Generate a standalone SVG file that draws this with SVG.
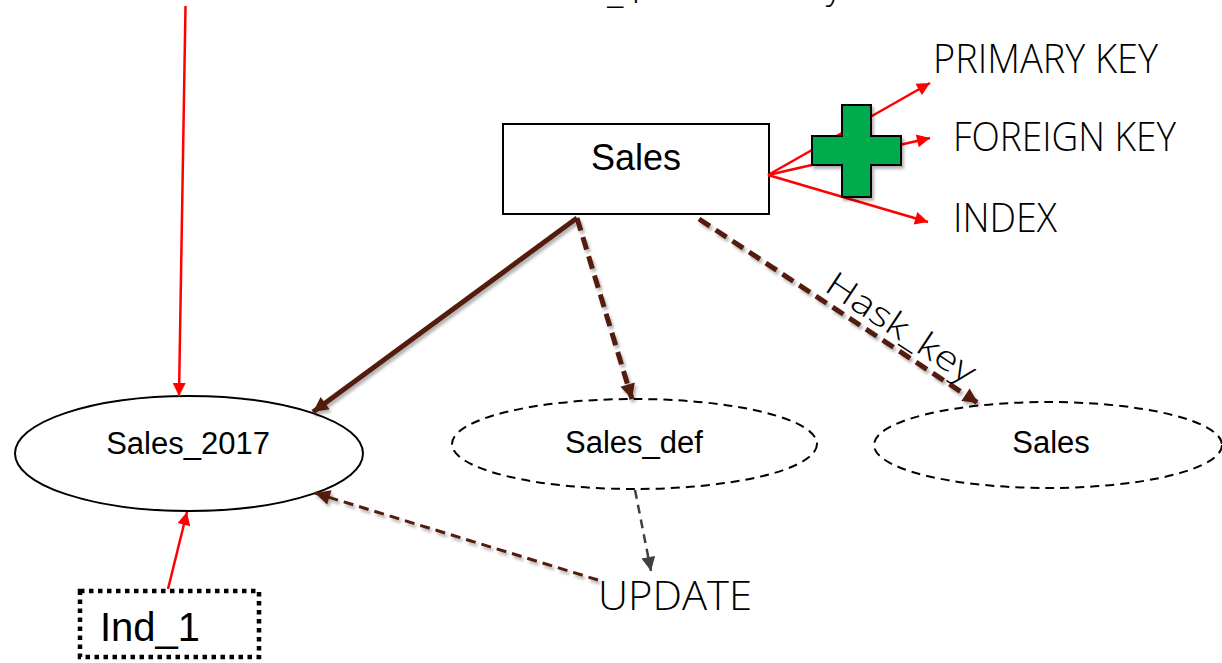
<svg xmlns="http://www.w3.org/2000/svg" width="1222" height="663" viewBox="0 0 1222 663">
<style>
.nl{font-family:"Liberation Sans",Arial,sans-serif;fill:#000;text-anchor:middle}
.hl{font-family:"Open Sans","Noto Sans",sans-serif;font-weight:300;fill:#000}
.red{stroke:#ff0000;stroke-width:2.5;fill:none}
.br{stroke:#521d0f;stroke-width:5;fill:none}
.brd{stroke:#521d0f;stroke-width:5;fill:none;stroke-dasharray:13 7}
.brt{stroke:#521d0f;stroke-width:3;fill:none;stroke-dasharray:10 6}
.gr{stroke:#404040;stroke-width:2.5;fill:none;stroke-dasharray:9 6}
.shape{fill:#fff;stroke:#000;stroke-width:2}
.dash{fill:#fff;stroke:#000;stroke-width:2;stroke-dasharray:9 6}
</style>
<defs>
<filter id="sh" x="-20%" y="-20%" width="140%" height="140%">
<feDropShadow dx="2" dy="3" stdDeviation="1.5" flood-color="#000" flood-opacity="0.3"/>
</filter>
<marker id="ar" viewBox="0 0 10 10" refX="10" refY="5" markerWidth="15" markerHeight="13" markerUnits="userSpaceOnUse" orient="auto"><path d="M0,0 L10,5 L0,10 z" fill="#ff0000"/></marker>
<marker id="ab" viewBox="0 0 10 10" refX="10" refY="5" markerWidth="18" markerHeight="15" markerUnits="userSpaceOnUse" orient="auto"><path d="M0,0 L10,5 L0,10 z" fill="#521d0f"/></marker>
<marker id="ag" viewBox="0 0 10 10" refX="10" refY="5" markerWidth="16" markerHeight="14" markerUnits="userSpaceOnUse" orient="auto"><path d="M0,0 L10,5 L0,10 z" fill="#404040"/></marker>
</defs>

<text class="hl" x="607" y="3" font-size="40">_1</text>
<text class="hl" x="826" y="-2" font-size="36">y</text>

<g id="node-sales">
<rect class="shape" x="503" y="124" width="266" height="90"/>
<text class="nl" x="636" y="170" font-size="36">Sales</text>
</g>
<g id="node-sales2017">
<ellipse class="shape" cx="189" cy="453.5" rx="174" ry="57.5"/>
<text class="nl" x="188" y="454" font-size="31">Sales_2017</text>
</g>
<g id="node-salesdef">
<ellipse class="dash" cx="634.5" cy="444" rx="182.5" ry="45"/>
<text class="nl" x="634" y="453" font-size="31">Sales_def</text>
</g>
<g id="node-sales-hash">
<ellipse class="dash" cx="1048" cy="445" rx="174" ry="43"/>
<text class="nl" x="1051" y="453" font-size="31">Sales</text>
</g>
<g id="node-ind1">
<rect x="80" y="591" width="179" height="66" fill="#fff" stroke="#000" stroke-width="4.5" stroke-dasharray="4.5 4.5"/>
<text class="nl" x="150" y="641" font-size="40">Ind_1</text>
</g>
<g id="label-pk"><text class="hl" x="933" y="73" font-size="41" textLength="225" lengthAdjust="spacingAndGlyphs">PRIMARY KEY</text></g>
<g id="label-fk"><text class="hl" x="953" y="151" font-size="41" textLength="223" lengthAdjust="spacingAndGlyphs">FOREIGN KEY</text></g>
<g id="label-index"><text class="hl" x="953" y="232" font-size="41" textLength="104" lengthAdjust="spacingAndGlyphs">INDEX</text></g>
<g id="label-update"><text class="hl" x="598" y="610" font-size="41" textLength="154" lengthAdjust="spacingAndGlyphs">UPDATE</text></g>

<g id="connectors">
<line class="red" x1="185.5" y1="6" x2="179" y2="396" marker-end="url(#ar)"/>
<line class="red" x1="168" y1="589" x2="187" y2="512" marker-end="url(#ar)"/>
<line class="red" x1="768" y1="175" x2="930" y2="83" marker-end="url(#ar)"/>
<line class="red" x1="768" y1="175" x2="930" y2="138" marker-end="url(#ar)"/>
<line class="red" x1="768" y1="175" x2="928" y2="222" marker-end="url(#ar)"/>
<g filter="url(#sh)">
<line class="br" x1="577" y1="218" x2="313" y2="412" marker-end="url(#ab)"/>
<line class="brd" x1="577" y1="218" x2="632" y2="399" marker-end="url(#ab)"/>
<line class="brd" x1="699" y1="219" x2="978" y2="403" marker-end="url(#ab)"/>
<line class="brt" x1="598" y1="580" x2="315" y2="493" marker-end="url(#ab)"/>
</g>
<line class="gr" x1="635" y1="490" x2="651" y2="571" marker-end="url(#ag)"/>
<text class="hl" font-size="34" transform="translate(823,290) rotate(33.5)" textLength="172" lengthAdjust="spacingAndGlyphs">Hask_key</text>
</g>

<g id="plus" filter="url(#sh)">
<path d="M842,105 H871 V136 H901 V165 H871 V197 H842 V165 H812 V136 H842 Z" fill="#00ab4e" stroke="#000" stroke-width="2"/>
</g>
</svg>
